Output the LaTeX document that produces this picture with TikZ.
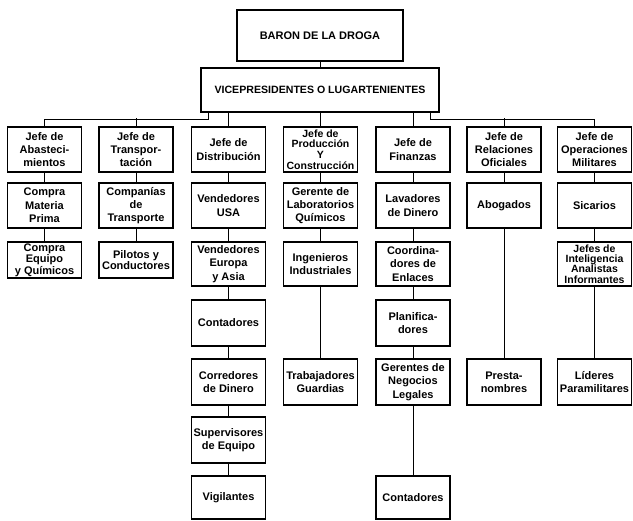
\documentclass[tikz,border=0pt]{standalone}
\usepackage{fontspec}
\setmainfont{Liberation Sans}
\begin{document}
\begin{tikzpicture}[x=1pt,y=-1pt,
  box/.style={draw, line width=1.2pt, align=center, inner sep=1pt, minimum width=74pt,
    font=\bfseries\fontsize{11}{13.3}\selectfont},
  hA/.style={minimum height=45pt},
  hB/.style={minimum height=36pt, font=\bfseries\fontsize{11}{11.5}\selectfont, inner sep=0pt},
  hC/.style={minimum height=44pt},
  hD/.style={minimum height=46pt},
  hE/.style={minimum height=43pt},
  four/.style={font=\bfseries\fontsize{10.5}{10.5}\selectfont, inner sep=0.5pt},
  conn/.style={line width=1pt}]
\useasboundingbox (0,0) rectangle (633,521);
\fill[white] (0,0) rectangle (633,521);

% top
\node[box, minimum width=166pt, minimum height=51pt, font=\bfseries\fontsize{11}{13}\selectfont] (baron) at (320,35.5) {BARON DE LA DROGA};
\node[box, minimum width=238pt, minimum height=44pt, font=\bfseries\fontsize{10.6}{12}\selectfont] (vice) at (320,90) {VICEPRESIDENTES O LUGARTENIENTES};

% column 1
\node[box,hA] (a1) at (44.5,149.5) {Jefe de\\Abasteci-\\mientos};
\node[box,hA] (a2) at (44.5,205.5) {Compra\\Materia\\Prima};
\node[box,hB] (a3) at (44.5,260) {Compra\\Equipo\\y Químicos};

% column 2
\node[box,hA] (b1) at (136,149.5) {Jefe de\\Transpor-\\tación};
\node[box,hA] (b2) at (136,205.5) {Companías\\de\\Transporte};
\node[box,hB] (b3) at (136,260) {Pilotos y\\Conductores};

% column 3
\node[box,hA] (c1) at (228.5,149.5) {Jefe de\\Distribución};
\node[box,hA] (c2) at (228.5,205.5) {Vendedores\\USA};
\node[box,hC] (c3) at (228.5,264) {Vendedores\\Europa\\y Asia};
\node[box,hD] (c4) at (228.5,323) {Contadores};
\node[box,hD] (c5) at (228.5,382) {Corredores\\de Dinero};
\node[box,hD] (c6) at (228.5,440) {Supervisores\\de Equipo};
\node[box,hE] (c7) at (228.5,497.5) {Vigilantes};

% column 4
\node[box,hA,four] (d1) at (320.5,149.5) {Jefe de\\Producción\\Y\\Construcción};
\node[box,hA] (d2) at (320.5,205.5) {Gerente de\\Laboratorios\\Químicos};
\node[box,hC] (d3) at (320.5,264) {Ingenieros\\Industriales};
\node[box,hD] (d5) at (320.5,382) {Trabajadores\\Guardias};

% column 5
\node[box,hA] (e1) at (413,149.5) {Jefe de\\Finanzas};
\node[box,hA] (e2) at (413,205.5) {Lavadores\\de Dinero};
\node[box,hC] (e3) at (413,264) {Coordina-\\dores de\\Enlaces};
\node[box,hD] (e4) at (413,323) {Planifica-\\dores};
\node[box,hD] (e5) at (413,382) {Gerentes de\\Negocios\\Legales};
\node[box,hE] (e7) at (413,497.5) {Contadores};

% column 6
\node[box,hA] (f1) at (504,149.5) {Jefe de\\Relaciones\\Oficiales};
\node[box,hA] (f2) at (504,205.5) {Abogados};
\node[box,hD] (f5) at (504,382) {Presta-\\nombres};

% column 7
\node[box,hA] (g1) at (594.5,149.5) {Jefe de\\Operaciones\\Militares};
\node[box,hA] (g2) at (594.5,205.5) {Sicarios};
\node[box,hC,four] (g3) at (594.5,264) {Jefes de\\Inteligencia\\Analistas\\Informantes};
\node[box,hD] (g5) at (594.5,382) {Líderes\\Paramilitares};

% connectors top
\draw[conn] (baron) -- (vice);
\draw[conn] ([xshift=8pt]vice.south west) -- ++(0,7) -| (a1.north);
\draw[conn] (b1.north) -- ++(0,-8);
\draw[conn] (c1.north) -- (c1.north |- vice.south);
\draw[conn] (d1.north) -- (d1.north |- vice.south);
\draw[conn] (e1.north) -- (e1.north |- vice.south);
\draw[conn] ([xshift=-9pt]vice.south east) -- ++(0,7) -| (g1.north);
\draw[conn] (f1.north) -- ++(0,-8);

% column chains
\draw[conn] (a1) -- (a2) (a2) -- (a3);
\draw[conn] (b1) -- (b2) (b2) -- (b3);
\draw[conn] (c1) -- (c2) (c2) -- (c3) (c3) -- (c4) (c4) -- (c5) (c5) -- (c6) (c6) -- (c7);
\draw[conn] (d1) -- (d2) (d2) -- (d3) (d3) -- (d5);
\draw[conn] (e1) -- (e2) (e2) -- (e3) (e3) -- (e4) (e4) -- (e5) (e5) -- (e7);
\draw[conn] (f1) -- (f2) (f2) -- (f5);
\draw[conn] (g1) -- (g2) (g2) -- (g3) (g3) -- (g5);
\end{tikzpicture}
\end{document}
